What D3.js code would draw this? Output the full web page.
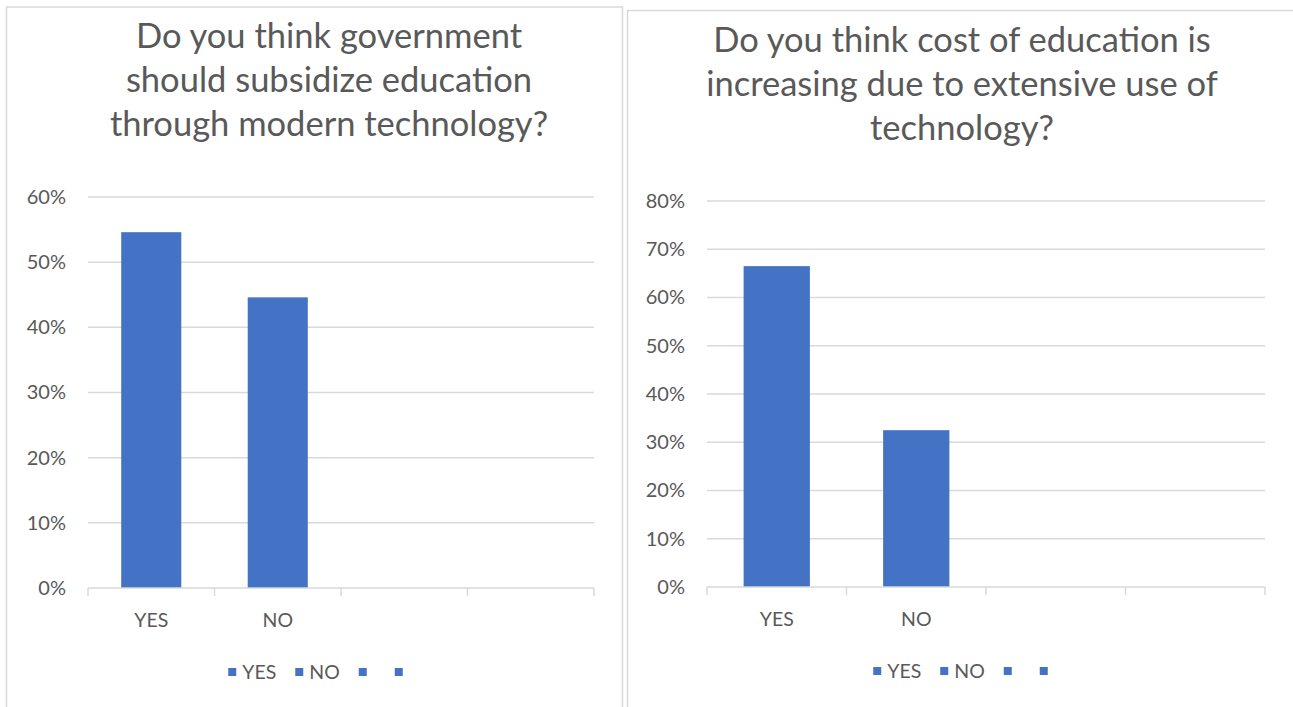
<!DOCTYPE html>
<html>
<head>
<meta charset="utf-8">
<script src="https://cdn.jsdelivr.net/npm/d3@7"></script>
<style>
  html, body { margin: 0; padding: 0; background: #ffffff; }
  svg { display: block; }
  text { font-family: Lato, "Open Sans", sans-serif; fill: #595959; }
</style>
</head>
<body>
<svg id="chart" width="1293" height="707"></svg>
<script>
// Survey answers, one bar per category
const categories = ["YES", "NO", "", ""];
const legendLabels = ["YES", "NO", "", ""];

const subsidizeTitle = ["Do you think government", "should subsidize education", "through modern technology?"];
const subsidizeValues = [0.546, 0.446, null, null];
const subsidizeTicks = [0, 0.1, 0.2, 0.3, 0.4, 0.5, 0.6];

const costTitle = ["Do you think cost of education is", "increasing due to extensive use of", "technology?"];
const costValues = [0.665, 0.325, null, null];
const costTicks = [0, 0.1, 0.2, 0.3, 0.4, 0.5, 0.6, 0.7, 0.8];

const BAR = "#4472C4";
const GRID = "#d9d9d9";
const TEXT = "#595959";

const svg = d3.select("#chart");

// Panel frames
svg.append("rect").attr("x", 6.5).attr("y", 7).attr("width", 616).attr("height", 720)
  .attr("fill", "none").attr("stroke", GRID).attr("stroke-width", 1.5);
svg.append("rect").attr("x", 627.5).attr("y", 10.5).attr("width", 700).attr("height", 720)
  .attr("fill", "none").attr("stroke", GRID).attr("stroke-width", 1.5);

const panels = [
  { title: subsidizeTitle, values: subsidizeValues, ticks: subsidizeTicks,
    titleX: 329, titleY: 48, x0: 88, x1: 594, yTop: 197, yBottom: 588, legendX: 320 },
  { title: costTitle, values: costValues, ticks: costTicks,
    titleX: 962, titleY: 52, x0: 707, x1: 1265, yTop: 201, yBottom: 587, legendX: 965 }
];

panels.forEach(p => {
  const g = svg.append("g");

  // Title
  const title = g.append("text")
    .attr("x", p.titleX).attr("y", p.titleY)
    .attr("text-anchor", "middle")
    .style("font-size", "34.5px");
  p.title.forEach((line, i) => {
    title.append("tspan").attr("x", p.titleX).attr("dy", i === 0 ? 0 : 44).text(line);
  });

  const x = d3.scaleBand().domain(d3.range(categories.length)).range([p.x0, p.x1])
    .paddingInner(0.525).paddingOuter(0.2625);
  const xOuter = d3.scaleBand().domain(d3.range(categories.length)).range([p.x0, p.x1]);
  const y = d3.scaleLinear().domain([0, d3.max(p.ticks)]).range([p.yBottom, p.yTop]);

  // Gridlines
  g.append("g").selectAll("line").data(p.ticks.filter(t => t > 0)).join("line")
    .attr("x1", p.x0).attr("x2", p.x1)
    .attr("y1", d => y(d)).attr("y2", d => y(d))
    .attr("stroke", GRID).attr("stroke-width", 1.5);

  // Value axis labels
  const yAxis = g.append("g").attr("transform", `translate(${p.x0 - 22},0)`)
    .call(d3.axisLeft(y).tickValues(p.ticks).tickFormat(d3.format(".0%")).tickSize(0).tickPadding(0));
  yAxis.select(".domain").remove();
  yAxis.selectAll("text").style("font-size", "20px").attr("fill", TEXT)
    .style("font-family", "Lato, 'Open Sans', sans-serif");

  // Bars
  g.append("g").selectAll("rect")
    .data(p.values.map((v, i) => ({ v, i })).filter(d => d.v != null))
    .join("rect")
    .attr("x", d => x(d.i)).attr("width", x.bandwidth())
    .attr("y", d => y(d.v)).attr("height", d => y(0) - y(d.v))
    .attr("fill", BAR);

  // Category axis with boundary ticks
  const boundaries = d3.range(categories.length + 1).map(i => p.x0 + i * xOuter.step());
  g.append("line").attr("x1", p.x0).attr("x2", p.x1)
    .attr("y1", p.yBottom).attr("y2", p.yBottom)
    .attr("stroke", GRID).attr("stroke-width", 1.5);
  g.append("g").selectAll("line").data(boundaries).join("line")
    .attr("x1", d => d).attr("x2", d => d)
    .attr("y1", p.yBottom).attr("y2", p.yBottom + 8)
    .attr("stroke", GRID).attr("stroke-width", 1.5);
  g.append("g").selectAll("text").data(categories).join("text")
    .attr("x", (d, i) => xOuter(i) + xOuter.bandwidth() / 2)
    .attr("y", p.yBottom + 39)
    .attr("text-anchor", "middle")
    .style("font-size", "19.5px")
    .text(d => d);

  // Legend
  const legend = g.append("g");
  let cursor = 0;
  legendLabels.forEach(label => {
    const item = legend.append("g").attr("transform", `translate(${cursor},0)`);
    item.append("rect").attr("x", 0).attr("y", -4).attr("width", 8).attr("height", 8).attr("fill", BAR);
    const t = item.append("text").attr("x", 14).attr("y", 7).style("font-size", "19.5px").text(label);
    const w = label ? t.node().getComputedTextLength() : 3;
    cursor += 14 + w + 19;
  });
  const legendWidth = cursor - 19;
  legend.attr("transform", `translate(${p.legendX - legendWidth / 2},${p.yBottom + 84})`);
});
</script>
</body>
</html>
